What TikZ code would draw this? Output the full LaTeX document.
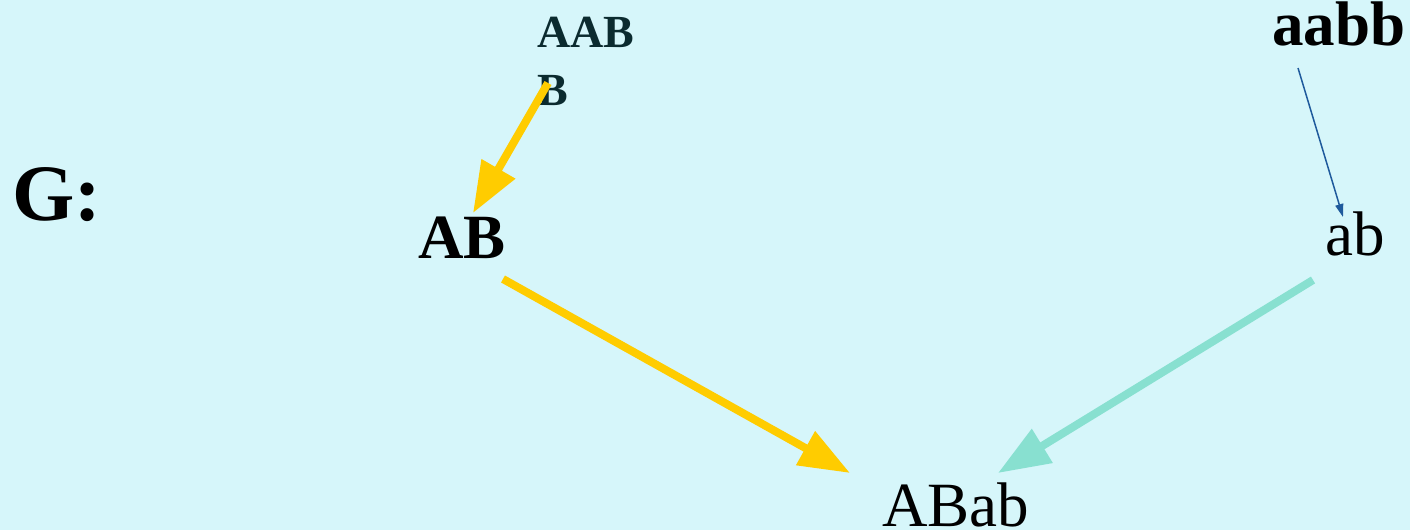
\documentclass[tikz,border=0pt]{standalone}
\usepackage{fontspec}
\setmainfont{Liberation Serif}
\usetikzlibrary{calc,arrows.meta}
\definecolor{bgcyan}{HTML}{D6F6FA}
\definecolor{gold}{HTML}{FFCC00}
\definecolor{mint}{HTML}{88E0D0}
\definecolor{navy}{HTML}{1F5A9C}
\definecolor{darkteal}{HTML}{0B2B2F}

\begin{document}
\begin{tikzpicture}[x=1pt,y=-1pt,
  lbl/.style={inner sep=0pt,anchor=base west},
  big/.style={font=\fontsize{63}{63}\selectfont},
  bigbold/.style={font=\bfseries\fontsize{63}{63}\selectfont},
  goldarrow/.style={draw=gold,line width=8pt,-{Triangle[length=51pt,width=37pt]}},
  mintarrow/.style={draw=mint,line width=8pt,-{Triangle[length=52pt,width=38pt]}},
  thinarrow/.style={draw=navy,line width=1.5pt,-{Triangle[length=13pt,width=8pt]}}]
  \useasboundingbox (0,0) rectangle (1410,530);
  \fill[bgcyan] (0,0) rectangle (1410,530);
  \node[lbl,font=\bfseries\fontsize{80}{80}\selectfont] (G) at (12,220) {G:};
  % base of a two-line node is its last line
  \node[lbl,align=left,text=darkteal,font=\bfseries\fontsize{46}{58}\selectfont] (AABB) at (537,105) {AAB\\B};
  \node[lbl,bigbold] (AB) at (418,258) {AB};
  \node[lbl,bigbold] (aabb) at (1272,45) {aabb};
  \node[lbl,big] (ab) at (1325,255) {ab};
  \node[lbl,big] (ABab) at (882,526) {ABab};
  \draw[goldarrow] ($(AABB.base west)+(11,-22)$) -- ($(AB.base west)+(55,-45)$);
  \draw[goldarrow] ($(AB.base west)+(85,21)$) -- ($(ABab.base west)+(-32,-53)$);
  \draw[mintarrow] ($(ab.base west)+(-12,25)$) -- ($(ABab.base west)+(116,-53)$);
  \draw[thinarrow] ($(aabb.base west)+(26,23)$) -- ($(ab.base west)+(18,-38)$);
\end{tikzpicture}
\end{document}
